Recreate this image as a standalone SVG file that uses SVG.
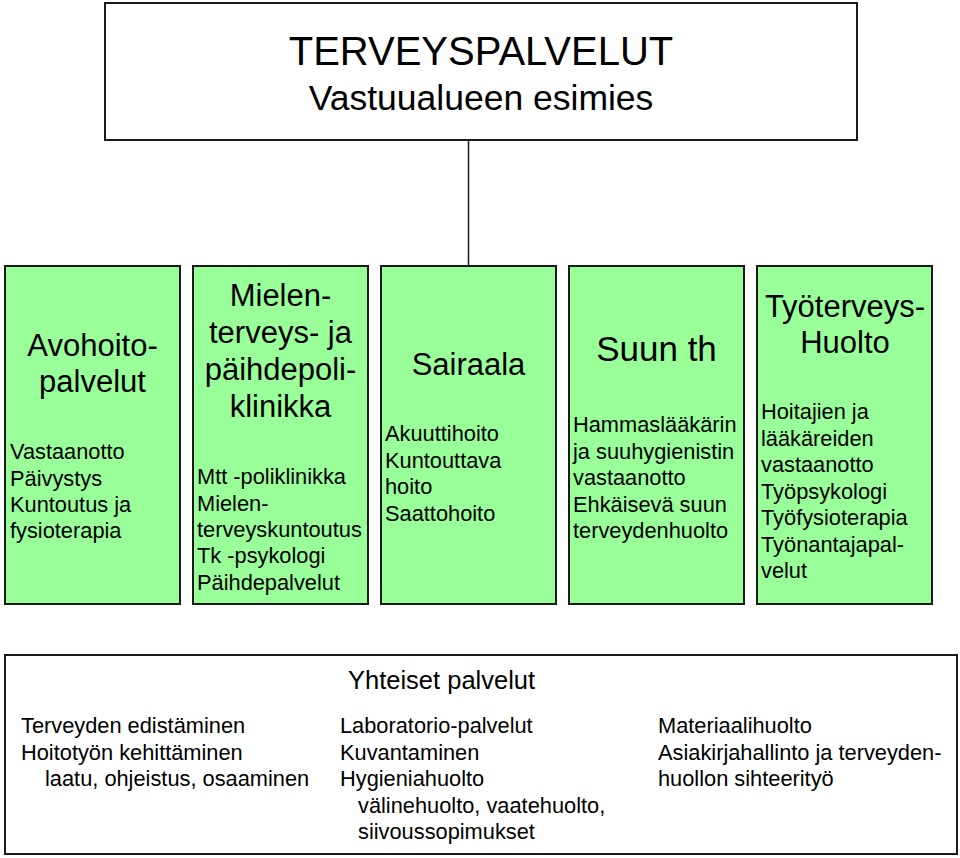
<svg xmlns="http://www.w3.org/2000/svg" width="960" height="858" viewBox="0 0 960 858">
<style>
text{font-family:"Liberation Sans",Arial,sans-serif;fill:#000}
.box{fill:#fff;stroke:#1a1a1a;stroke-width:2}
.g{fill:#99ff99;stroke:#1a1a1a;stroke-width:2}
.h{font-size:31px;text-anchor:middle}
.b{font-size:21.8px}
.c{stroke:#1a1a1a;stroke-width:1.5;fill:none}
</style>
<rect width="960" height="858" fill="#fff"/>
<g id="connectors">
<line class="c" x1="468.5" y1="140" x2="468.5" y2="266"/>
</g>
<g id="title">
<rect class="box" x="105" y="3" width="752" height="137"/>
<text x="481" y="65" font-size="40" text-anchor="middle">TERVEYSPALVELUT</text>
<text x="481" y="110" font-size="35.5" text-anchor="middle">Vastuualueen esimies</text>
</g>
<g id="avohoito">
<rect class="g" x="5" y="266" width="175" height="338"/>
<text class="h" x="92.5" y="356">Avohoito-</text>
<text class="h" x="92.5" y="392">palvelut</text>
<text class="b" x="10" y="459">Vastaanotto</text>
<text class="b" x="10" y="485.5">Päivystys</text>
<text class="b" x="10" y="512">Kuntoutus ja</text>
<text class="b" x="10" y="538">fysioterapia</text>
</g>
<g id="mielenterveys">
<rect class="g" x="193" y="266" width="175" height="338"/>
<text class="h" x="280.5" y="306">Mielen-</text>
<text class="h" x="280.5" y="343">terveys- ja</text>
<text class="h" x="280.5" y="380">päihdepoli-</text>
<text class="h" x="280.5" y="417">klinikka</text>
<text class="b" x="197" y="484">Mtt -poliklinikka</text>
<text class="b" x="197" y="510.5">Mielen-</text>
<text class="b" x="197" y="537">terveyskuntoutus</text>
<text class="b" x="197" y="563">Tk -psykologi</text>
<text class="b" x="197" y="589.5">Päihdepalvelut</text>
</g>
<g id="sairaala">
<rect class="g" x="381" y="266" width="175" height="338"/>
<text class="h" x="468.5" y="375">Sairaala</text>
<text class="b" x="385" y="441">Akuuttihoito</text>
<text class="b" x="385" y="467.5">Kuntouttava</text>
<text class="b" x="385" y="494">hoito</text>
<text class="b" x="385" y="520.5">Saattohoito</text>
</g>
<g id="suun">
<rect class="g" x="569" y="266" width="175" height="338"/>
<text class="h" x="656.5" y="361" style="font-size:35px">Suun th</text>
<text class="b" x="573" y="432">Hammaslääkärin</text>
<text class="b" x="573" y="458.5">ja suuhygienistin</text>
<text class="b" x="573" y="485">vastaanotto</text>
<text class="b" x="573" y="511.5">Ehkäisevä suun</text>
<text class="b" x="573" y="538">terveydenhuolto</text>
</g>
<g id="tyoterveys">
<rect class="g" x="757" y="266" width="175" height="338"/>
<text class="h" x="845" y="317">Työterveys-</text>
<text class="h" x="845" y="353">Huolto</text>
<text class="b" x="761" y="419">Hoitajien ja</text>
<text class="b" x="761" y="445.5">lääkäreiden</text>
<text class="b" x="761" y="472">vastaanotto</text>
<text class="b" x="761" y="498.5">Työpsykologi</text>
<text class="b" x="761" y="525">Työfysioterapia</text>
<text class="b" x="761" y="551.5">Työnantajapal-</text>
<text class="b" x="761" y="578">velut</text>
</g>
<g id="yhteiset">
<rect class="box" x="5" y="655" width="952" height="199"/>
<text x="348" y="689" font-size="25.5">Yhteiset palvelut</text>
<text class="b" x="21" y="733">Terveyden edistäminen</text>
<text class="b" x="21" y="759.5">Hoitotyön kehittäminen</text>
<text class="b" x="45" y="786">laatu, ohjeistus, osaaminen</text>
<text class="b" x="340" y="733">Laboratorio-palvelut</text>
<text class="b" x="340" y="759.5">Kuvantaminen</text>
<text class="b" x="340" y="786">Hygieniahuolto</text>
<text class="b" x="358" y="812.5">välinehuolto, vaatehuolto,</text>
<text class="b" x="358" y="839">siivoussopimukset</text>
<text class="b" x="658" y="733">Materiaalihuolto</text>
<text class="b" x="658" y="759.5">Asiakirjahallinto ja terveyden-</text>
<text class="b" x="658" y="786">huollon sihteerityö</text>
</g>
</svg>
